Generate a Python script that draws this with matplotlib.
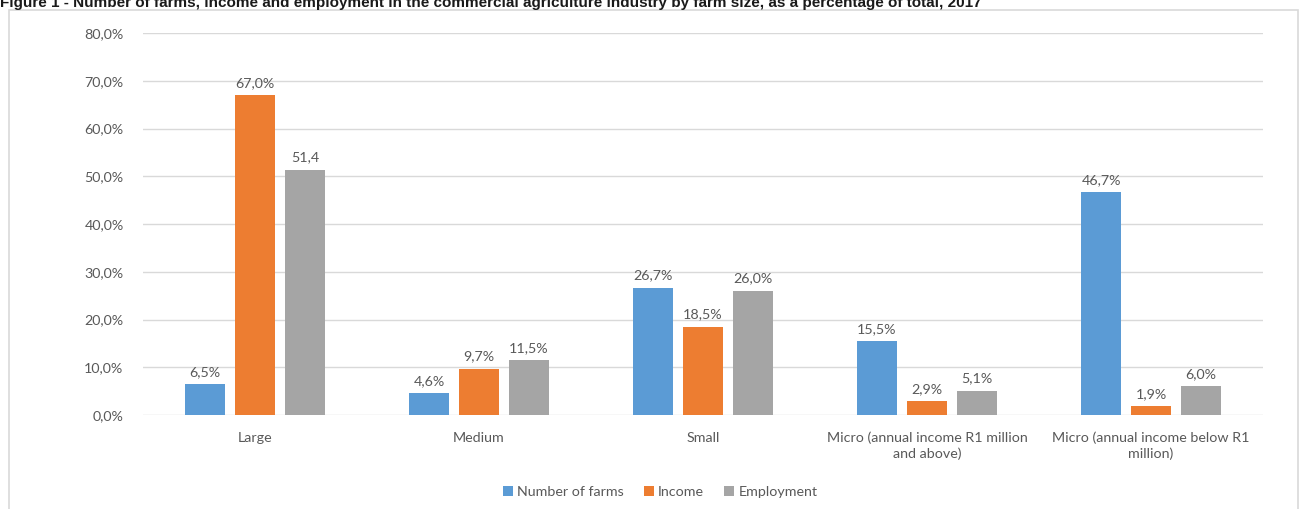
import matplotlib
matplotlib.use("Agg")
import matplotlib.pyplot as plt
import numpy as np
from matplotlib.patches import Rectangle

categories = ["Large", "Medium", "Small",
              "Micro (annual income R1 million\nand above)",
              "Micro (annual income below R1\nmillion)"]
series_names = ["Number of farms", "Income", "Employment"]
farms = [6.5, 4.6, 26.7, 15.5, 46.7]
income = [67.0, 9.7, 18.5, 2.9, 1.9]
employment = [51.4, 11.5, 26.0, 5.1, 6.0]
farms_labels = ["6,5%", "4,6%", "26,7%", "15,5%", "46,7%"]
income_labels = ["67,0%", "9,7%", "18,5%", "2,9%", "1,9%"]
employment_labels = ["51,4", "11,5%", "26,0%", "5,1%", "6,0%"]
yticks = [0, 10, 20, 30, 40, 50, 60, 70, 80]
ytick_labels = ["0,0%", "10,0%", "20,0%", "30,0%", "40,0%", "50,0%", "60,0%", "70,0%", "80,0%"]
title = ("Figure 1 - Number of farms, income and employment in the commercial agriculture "
         "industry by farm size, as a percentage of total, 2017")

colors = ["#5B9BD5", "#ED7D31", "#A5A5A5"]
text_color = "#595959"
plt.rcParams['font.family'] = ['Lato', 'DejaVu Sans']
fs = 10.3

fig = plt.figure(figsize=(13.05, 5.09), dpi=100)
W, H = 1305, 509
ax = fig.add_axes([143 / W, 1 - 415 / H, (1263 - 143) / W, (415 - 33) / H])

# frame around chart
fig.patches.append(Rectangle((9 / W, -0.05), (1298 - 9) / W, 1.05 - 10 / H,
                             transform=fig.transFigure, fill=False,
                             edgecolor="#D9D9D9", linewidth=1.2))

x = np.arange(len(categories))
offset = 0.223
width = 0.175
data = [farms, income, employment]
labels = [farms_labels, income_labels, employment_labels]
for i, (vals, labs, c, name) in enumerate(zip(data, labels, colors, series_names)):
    pos = x + (i - 1) * offset
    ax.bar(pos, vals, width=width, color=c, label=name, zorder=3)
    for p, v, l in zip(pos, vals, labs):
        ax.text(p, v + 1.3, l, ha="center", va="bottom", fontsize=fs, color=text_color)

ax.set_xlim(-0.5, len(categories) - 0.5)
ax.set_ylim(0, 80)
ax.set_yticks(yticks)
ax.set_yticklabels(ytick_labels, fontsize=fs, color=text_color)
ax.set_xticks(x)
ax.set_xticklabels(categories, fontsize=fs, color=text_color, linespacing=1.3)
ax.tick_params(axis="both", length=0)
ax.tick_params(axis="y", pad=14)
ax.tick_params(axis="x", pad=12)
ax.grid(axis="y", color="#D9D9D9", linewidth=1, zorder=0)
for s in ax.spines.values():
    s.set_visible(False)

leg = fig.legend(loc="center", bbox_to_anchor=(660 / W, 1 - 492 / H), ncol=3,
                 frameon=False, fontsize=fs, handlelength=0.7, handleheight=0.7,
                 handletextpad=0.3, columnspacing=1.4)
for t in leg.get_texts():
    t.set_color(text_color)

fig.text(0.0, 1 - 3 / H, title, ha="left", va="center", fontsize=11, fontweight="bold",
         color="#1a1a1a", family=['Liberation Sans Narrow', 'Liberation Sans', 'DejaVu Sans'])

fig.savefig("out.png", dpi=100, facecolor="white")
